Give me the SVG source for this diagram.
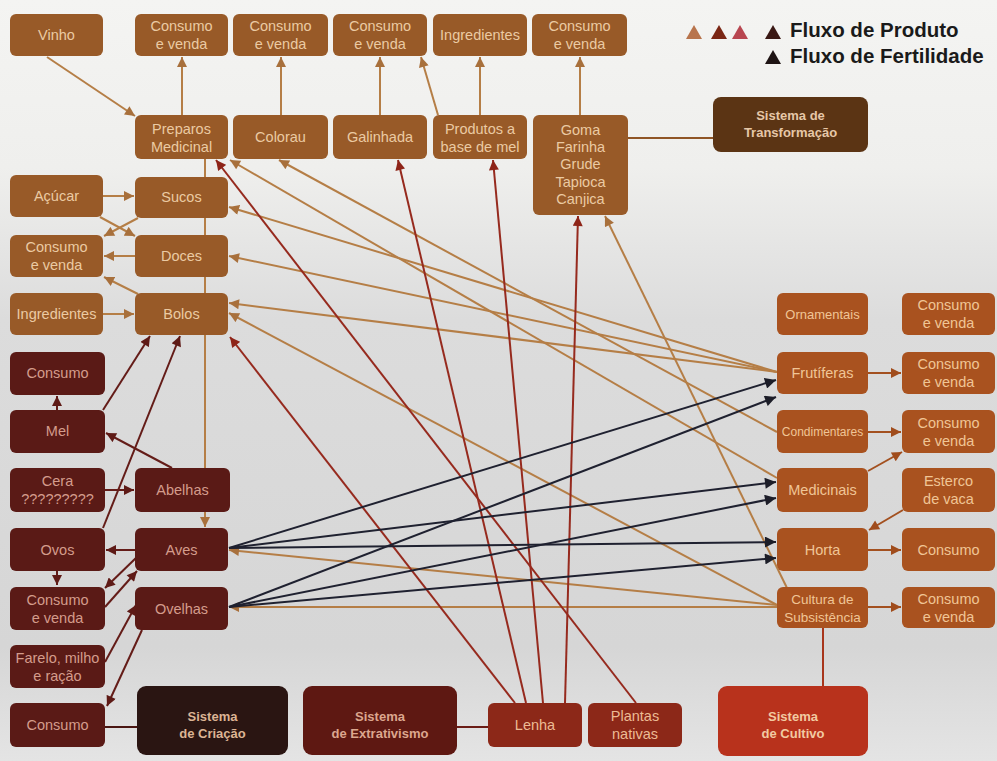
<svg xmlns="http://www.w3.org/2000/svg" width="997" height="761" viewBox="0 0 997 761">
<defs>
<linearGradient id="bg" x1="0" y1="0" x2="0" y2="1">
<stop offset="0" stop-color="#f4f4f2"/>
<stop offset="0.22" stop-color="#efefed"/>
<stop offset="0.42" stop-color="#dcdcdc"/>
<stop offset="0.85" stop-color="#d6d6d6"/>
<stop offset="1" stop-color="#e4e4e4"/>
</linearGradient>
<marker id="mt" viewBox="0 0 10 10" refX="10" refY="5" markerWidth="11" markerHeight="10" markerUnits="userSpaceOnUse" orient="auto"><path d="M0,0 L10,5 L0,10 z" fill="#a8703c"/></marker>
<marker id="mr" viewBox="0 0 10 10" refX="10" refY="5" markerWidth="11" markerHeight="10" markerUnits="userSpaceOnUse" orient="auto"><path d="M0,0 L10,5 L0,10 z" fill="#8e2418"/></marker>
<marker id="md" viewBox="0 0 10 10" refX="10" refY="5" markerWidth="11" markerHeight="10" markerUnits="userSpaceOnUse" orient="auto"><path d="M0,0 L10,5 L0,10 z" fill="#5e1a16"/></marker>
<marker id="mk" viewBox="0 0 10 10" refX="10" refY="5" markerWidth="12" markerHeight="11" markerUnits="userSpaceOnUse" orient="auto"><path d="M0,0 L10,5 L0,10 z" fill="#1c1d28"/></marker>
<marker id="mc" viewBox="0 0 10 10" refX="10" refY="5" markerWidth="11" markerHeight="10" markerUnits="userSpaceOnUse" orient="auto"><path d="M0,0 L10,5 L0,10 z" fill="#a04c1c"/></marker>
</defs>
<style>
text{font-family:"Liberation Sans",Arial,sans-serif;font-size:14.5px;text-anchor:middle}
.tf rect{fill:#985a28}.tf text{fill:#ebcaa3}
.cr rect{fill:#5a1a16}.cr text{fill:#d49c8c}
.ex rect{fill:#8c2818}.ex text{fill:#ecbb94}
.cu rect{fill:#a9521f}.cu text{fill:#f0c596}
.sys text{font-weight:bold;font-size:13px}
.ln line{fill:none;stroke-width:2}
.t{stroke:#b57e46;marker-end:url(#mt)}
.r{stroke:#962a1e;marker-end:url(#mr)}
.d{stroke:#641c18;marker-end:url(#md)}
.k{stroke:#1f2130;marker-end:url(#mk)}
.c{stroke:#a3501f;marker-end:url(#mc)}
.leg text{font-size:20.5px;font-weight:bold;text-anchor:start;fill:#1a1a1a}
</style>
<rect width="997" height="761" fill="url(#bg)"/>

<g id="connectors" class="ln">
<line class="t" x1="47" y1="57" x2="135" y2="116"/>
<line class="t" x1="182" y1="115" x2="182" y2="57"/>
<line class="t" x1="281" y1="115" x2="281" y2="57"/>
<line class="t" x1="380" y1="115" x2="380" y2="57"/>
<line class="t" x1="438" y1="115" x2="421" y2="57"/>
<line class="t" x1="480" y1="115" x2="480" y2="57"/>
<line class="t" x1="580" y1="115" x2="580" y2="57"/>
<line class="t" x1="205" y1="159" x2="205" y2="527"/>
<line class="t" x1="103" y1="196" x2="134" y2="196"/>
<line class="t" x1="100" y1="217" x2="135" y2="236"/>
<line class="t" x1="138" y1="218" x2="104" y2="236"/>
<line class="t" x1="135" y1="256" x2="104" y2="256"/>
<line class="t" x1="138" y1="294" x2="104" y2="277"/>
<line class="t" x1="103" y1="314" x2="134" y2="314"/>
<line class="t" x1="777" y1="478" x2="230" y2="160"/>
<line class="t" x1="777" y1="432" x2="279" y2="160"/>
<line class="t" x1="777" y1="372" x2="229" y2="207"/>
<line class="t" x1="777" y1="372" x2="229" y2="256"/>
<line class="t" x1="777" y1="372" x2="229" y2="303"/>
<line class="t" x1="777" y1="605" x2="229" y2="313"/>
<line class="t" x1="787" y1="588" x2="605" y2="216"/>
<line class="t" x1="777" y1="605" x2="229" y2="550"/>
<line class="t" x1="777" y1="607" x2="229" y2="607"/>
<line x1="628" y1="138" x2="713" y2="138" stroke="#8f5526"/>
<line class="r" x1="636" y1="703" x2="216" y2="160"/>
<line class="r" x1="515" y1="703" x2="230" y2="337"/>
<line class="r" x1="526" y1="703" x2="398" y2="160"/>
<line class="r" x1="543" y1="703" x2="493" y2="160"/>
<line class="r" x1="565" y1="703" x2="578" y2="216"/>
<line x1="457" y1="727" x2="488" y2="727" stroke="#6a1c16"/>
<line class="d" x1="103" y1="410" x2="150" y2="336"/>
<line class="d" x1="103" y1="528" x2="180" y2="336"/>
<line class="d" x1="57" y1="410" x2="57" y2="396"/>
<line class="d" x1="172" y1="468" x2="106" y2="433"/>
<line class="d" x1="105" y1="490" x2="134" y2="490"/>
<line class="d" x1="135" y1="550" x2="106" y2="550"/>
<line class="d" x1="57" y1="571" x2="57" y2="585"/>
<line class="d" x1="138" y1="556" x2="105" y2="588"/>
<line class="d" x1="105" y1="607" x2="137" y2="571"/>
<line class="d" x1="105" y1="662" x2="136" y2="605"/>
<line class="d" x1="142" y1="630" x2="107" y2="706"/>
<line x1="105" y1="727" x2="137" y2="727" stroke="#4a1612"/>
<line class="k" x1="229" y1="548" x2="776" y2="380"/>
<line class="k" x1="229" y1="548" x2="776" y2="482"/>
<line class="k" x1="229" y1="548" x2="776" y2="542"/>
<line class="k" x1="229" y1="607" x2="776" y2="397"/>
<line class="k" x1="229" y1="607" x2="776" y2="498"/>
<line class="k" x1="229" y1="607" x2="776" y2="558"/>
<line class="c" x1="868" y1="373" x2="901" y2="373"/>
<line class="c" x1="868" y1="432" x2="901" y2="432"/>
<line class="c" x1="868" y1="471" x2="902" y2="452"/>
<line class="c" x1="903" y1="510" x2="869" y2="530"/>
<line class="c" x1="868" y1="550" x2="901" y2="550"/>
<line class="c" x1="868" y1="607" x2="901" y2="607"/>
<line x1="823" y1="628" x2="823" y2="686" stroke="#a8361c"/>
</g>

<g id="vinho" class="tf"><rect x="10" y="14" width="93" height="42" rx="6"/><text x="56.5" y="40">Vinho</text></g>
<g id="cv-t1" class="tf"><rect x="135" y="14" width="93" height="42" rx="6"/><text x="181.5" y="31">Consumo</text><text x="181.5" y="49">e venda</text></g>
<g id="cv-t2" class="tf"><rect x="233" y="14" width="95" height="42" rx="6"/><text x="280.5" y="31">Consumo</text><text x="280.5" y="49">e venda</text></g>
<g id="cv-t3" class="tf"><rect x="333" y="14" width="94" height="42" rx="6"/><text x="380" y="31">Consumo</text><text x="380" y="49">e venda</text></g>
<g id="ingredientes-t" class="tf"><rect x="433" y="14" width="94" height="42" rx="6"/><text x="480" y="40">Ingredientes</text></g>
<g id="cv-t5" class="tf"><rect x="532" y="14" width="95" height="42" rx="6"/><text x="579.5" y="31">Consumo</text><text x="579.5" y="49">e venda</text></g>
<g id="preparos" class="tf"><rect x="135" y="115" width="93" height="44" rx="6"/><text x="181.5" y="134">Preparos</text><text x="181.5" y="152">Medicinal</text></g>
<g id="colorau" class="tf"><rect x="233" y="115" width="95" height="44" rx="6"/><text x="280.5" y="142">Colorau</text></g>
<g id="galinhada" class="tf"><rect x="333" y="115" width="94" height="44" rx="6"/><text x="380" y="142">Galinhada</text></g>
<g id="produtos" class="tf"><rect x="433" y="115" width="94" height="44" rx="6"/><text x="480" y="134">Produtos a</text><text x="480" y="152">base de mel</text></g>
<g id="goma" class="tf"><rect x="533" y="115" width="95" height="100" rx="6"/><text x="580.5" y="135">Goma</text><text x="580.5" y="152">Farinha</text><text x="580.5" y="169">Grude</text><text x="580.5" y="187">Tapioca</text><text x="580.5" y="204">Canjica</text></g>
<g id="sistema-transformacao" class="tf sys"><rect x="713" y="97" width="155" height="55" rx="8" style="fill:#5b3414"/><text x="790.5" y="120" style="fill:#e6c7a8">Sistema de</text><text x="790.5" y="137" style="fill:#e6c7a8">Transformação</text></g>
<g id="acucar" class="tf"><rect x="10" y="175" width="93" height="42" rx="6"/><text x="56.5" y="201">Açúcar</text></g>
<g id="sucos" class="tf"><rect x="135" y="177" width="93" height="41" rx="6"/><text x="181.5" y="202">Sucos</text></g>
<g id="cv-l" class="tf"><rect x="10" y="235" width="93" height="42" rx="6"/><text x="56.5" y="252">Consumo</text><text x="56.5" y="270">e venda</text></g>
<g id="doces" class="tf"><rect x="135" y="235" width="93" height="42" rx="6"/><text x="181.5" y="261">Doces</text></g>
<g id="ingredientes-l" class="tf"><rect x="10" y="293" width="93" height="42" rx="6"/><text x="56.5" y="319">Ingredientes</text></g>
<g id="bolos" class="tf"><rect x="135" y="293" width="93" height="42" rx="6"/><text x="181.5" y="319">Bolos</text></g>

<g id="consumo-c1" class="cr"><rect x="10" y="352" width="95" height="43" rx="6"/><text x="57.5" y="378">Consumo</text></g>
<g id="mel" class="cr"><rect x="10" y="410" width="95" height="43" rx="6"/><text x="57.5" y="436">Mel</text></g>
<g id="cera" class="cr"><rect x="10" y="468" width="95" height="44" rx="6"/><text x="57.5" y="486">Cera</text><text x="57.5" y="504">?????????</text></g>
<g id="abelhas" class="cr"><rect x="135" y="468" width="95" height="44" rx="6"/><text x="182.5" y="495">Abelhas</text></g>
<g id="ovos" class="cr"><rect x="10" y="528" width="95" height="43" rx="6"/><text x="57.5" y="555">Ovos</text></g>
<g id="aves" class="cr"><rect x="135" y="528" width="93" height="43" rx="6"/><text x="181.5" y="555">Aves</text></g>
<g id="cv-c" class="cr"><rect x="10" y="587" width="95" height="43" rx="6"/><text x="57.5" y="605">Consumo</text><text x="57.5" y="623">e venda</text></g>
<g id="ovelhas" class="cr"><rect x="135" y="587" width="93" height="43" rx="6"/><text x="181.5" y="614">Ovelhas</text></g>
<g id="farelo" class="cr"><rect x="10" y="645" width="95" height="43" rx="6"/><text x="57.5" y="663">Farelo, milho</text><text x="57.5" y="681">e ração</text></g>
<g id="consumo-c2" class="cr"><rect x="10" y="703" width="95" height="44" rx="6"/><text x="57.5" y="730">Consumo</text></g>
<g id="sistema-criacao" class="cr sys"><rect x="137" y="686" width="151" height="69" rx="9" style="fill:#2a1512"/><text x="212.5" y="721" style="fill:#dcb494">Sistema</text><text x="212.5" y="738" style="fill:#dcb494">de Criação</text></g>

<g id="sistema-extrativismo" class="ex sys"><rect x="303" y="686" width="154" height="69" rx="9" style="fill:#5e1812"/><text x="380" y="721" style="fill:#dca68e">Sistema</text><text x="380" y="738" style="fill:#dca68e">de Extrativismo</text></g>
<g id="lenha" class="ex"><rect x="488" y="703" width="94" height="44" rx="6"/><text x="535" y="730">Lenha</text></g>
<g id="plantas" class="ex"><rect x="588" y="703" width="94" height="44" rx="6"/><text x="635" y="721">Plantas</text><text x="635" y="739">nativas</text></g>

<g id="ornamentais" class="cu"><rect x="777" y="293" width="91" height="42" rx="6"/><text x="822.5" y="319" style="font-size:13px">Ornamentais</text></g>
<g id="cv-r1" class="cu"><rect x="902" y="293" width="93" height="42" rx="6"/><text x="948.5" y="310">Consumo</text><text x="948.5" y="328">e venda</text></g>
<g id="frutiferas" class="cu"><rect x="777" y="352" width="91" height="42" rx="6"/><text x="822.5" y="378">Frutíferas</text></g>
<g id="cv-r2" class="cu"><rect x="902" y="352" width="93" height="42" rx="6"/><text x="948.5" y="369">Consumo</text><text x="948.5" y="387">e venda</text></g>
<g id="condimentares" class="cu"><rect x="777" y="410" width="91" height="43" rx="6"/><text x="822.5" y="436" style="font-size:12px">Condimentares</text></g>
<g id="cv-r3" class="cu"><rect x="902" y="410" width="93" height="43" rx="6"/><text x="948.5" y="428">Consumo</text><text x="948.5" y="446">e venda</text></g>
<g id="medicinais" class="cu"><rect x="777" y="468" width="91" height="44" rx="6"/><text x="822.5" y="495">Medicinais</text></g>
<g id="esterco" class="cu"><rect x="902" y="468" width="93" height="44" rx="6"/><text x="948.5" y="486">Esterco</text><text x="948.5" y="504">de vaca</text></g>
<g id="horta" class="cu"><rect x="777" y="528" width="91" height="43" rx="6"/><text x="822.5" y="555">Horta</text></g>
<g id="consumo-r" class="cu"><rect x="902" y="528" width="93" height="43" rx="6"/><text x="948.5" y="555">Consumo</text></g>
<g id="cultura" class="cu"><rect x="777" y="587" width="91" height="41" rx="6"/><text x="822.5" y="604" style="font-size:13.5px">Cultura de</text><text x="822.5" y="622" style="font-size:13.5px">Subsistência</text></g>
<g id="cv-r4" class="cu"><rect x="902" y="587" width="93" height="41" rx="6"/><text x="948.5" y="604">Consumo</text><text x="948.5" y="622">e venda</text></g>
<g id="sistema-cultivo" class="cu sys"><rect x="718" y="686" width="150" height="70" rx="9" style="fill:#b8321c"/><text x="793" y="721" style="fill:#f2caa2">Sistema</text><text x="793" y="738" style="fill:#f2caa2">de Cultivo</text></g>

<g id="legend" class="leg">
<polygon points="686,39 694,25 702,39" fill="#b8744c"/>
<polygon points="711,39 719,25 727,39" fill="#7a2614"/>
<polygon points="732,39 740,25 748,39" fill="#b84650"/>
<polygon points="765,39 773,25 781,39" fill="#3a1814"/>
<text x="790" y="37">Fluxo de Produto</text>
<polygon points="765,64 773,50 781,64" fill="#1e1414"/>
<text x="790" y="63">Fluxo de Fertilidade</text>
</g>
</svg>
